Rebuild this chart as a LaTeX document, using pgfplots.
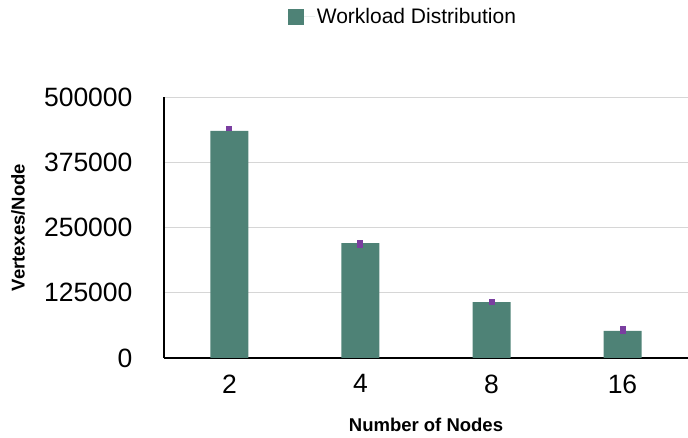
\documentclass[border=0pt]{standalone}
\usepackage{pgfplots}
\pgfplotsset{compat=1.18}
\usepackage{pgfplotstable}
\usepackage{fontspec}
\setmainfont{Liberation Sans}
\definecolor{barteal}{RGB}{78,130,118}
\definecolor{errpurple}{RGB}{122,62,160}
\definecolor{gridgray}{RGB}{214,214,214}
\pgfplotstableread{
x y ep em
0 435000 9600 0
1 220000 5800 9600
2 107000 5800 5800
3 52000 9600 5800
}\datatable
\begin{document}
\begin{tikzpicture}[x=1pt,y=1pt]
\useasboundingbox (-164,-80) rectangle (524,358);
\begin{axis}[
  at={(0,0)}, anchor=south west,
  scale only axis,
  width=524pt, height=261pt,
  xmin=-0.5, xmax=3.5,
  ymin=0, ymax=500000,
  scaled y ticks=false,
  ytick={0,125000,250000,375000,500000},
  yticklabels={0,125000,250000,375000,500000},
  xtick={0,1,2,3},
  xticklabels={2,4,8,16},
  major tick length=0pt,
  axis x line*=bottom,
  axis y line*=left,
  axis line style={black, line width=1.6pt},
  x axis line style={-, line width=2.2pt},
  y axis line style={-},
  ymajorgrids,
  grid style={gridgray, line width=1pt},
  tick label style={font=\fontsize{26.5}{30}\selectfont, black},
  yticklabel style={xshift=-28pt},
  xticklabel style={yshift=-13pt},
  xlabel={\textbf{Number of Nodes}},
  ylabel={\textbf{Vertexes/Node}},
  label style={font=\fontsize{18.5}{21}\selectfont},
  xlabel style={at={(axis description cs:0.5,0)}, anchor=center, yshift=-67pt},
  ylabel style={at={(axis description cs:0,0.5)}, anchor=center, yshift=146pt},
  clip=false,
  legend style={at={(axis description cs:0.456,1)}, anchor=center, yshift=80pt, draw=none, font=\fontsize{21}{24}\selectfont, legend cell align=left},
  legend image code/.code={\fill[barteal] (0pt,-8pt) rectangle (16pt,8pt); \path (0pt,0pt) -- (27pt,0pt);},
]
\addplot[ybar, bar width=38pt, fill=barteal, draw=none,
  error bars/.cd, y dir=both, y explicit,
  error bar style={line width=6pt, errpurple}, error mark=none]
  table[x=x, y=y, y error plus=ep, y error minus=em] {\datatable};
\addlegendentry{Workload Distribution}
\end{axis}
\end{tikzpicture}
\end{document}
